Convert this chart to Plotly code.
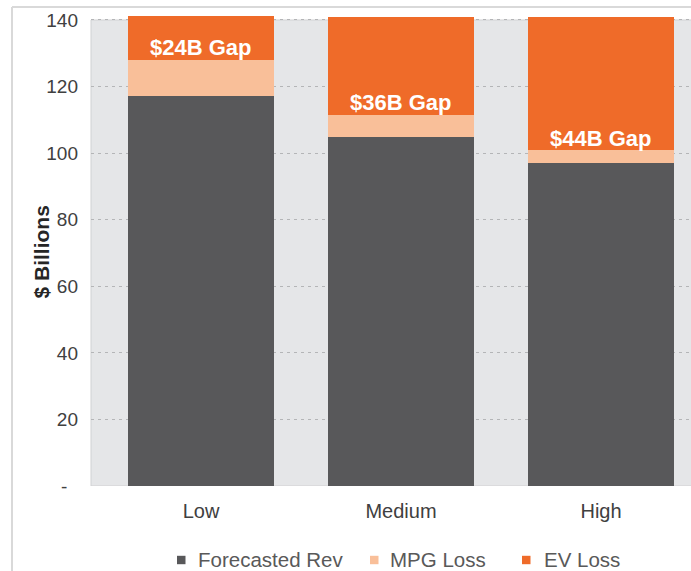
import plotly.graph_objects as go

# Scenario revenue data ($ billions)
scenarios = ["Low", "Medium", "High"]
forecasted_rev = [117.2, 105.0, 97.0]
mpg_loss = [10.8, 6.6, 3.8]
ev_loss = [13.2, 29.4, 40.2]
gap_labels = ["$24B Gap", "$36B Gap", "$44B Gap"]

series_names = ["Forecasted Rev", "MPG Loss", "EV Loss"]

y_ticks = [0, 20, 40, 60, 80, 100, 120, 140]
y_tick_text = ["-\u00a0\u00a0", "20", "40", "60", "80", "100", "120", "140"]

DARK = "#58585a"
PEACH = "#f9bf99"
ORANGE = "#ef6b29"
FONT = "Liberation Sans, Arial, sans-serif"

W, H = 691, 571
M_L, M_R, M_T, M_B = 91, 0, 16, 85
PLOT_W = W - M_L - M_R
PLOT_H = H - M_T - M_B


def px_x(px):
    return (px - M_L) / PLOT_W


def px_y(py):
    return (H - M_B - py) / PLOT_H


colors = [DARK, PEACH, ORANGE]
fig = go.Figure()
for name, vals, color in zip(series_names, [forecasted_rev, mpg_loss, ev_loss], colors):
    fig.add_trace(go.Bar(x=scenarios, y=vals, name=name, marker_color=color,
                         marker_line_width=0, width=0.73, showlegend=False))

# Gap labels sit just above the MPG loss segment
for s, f, m, txt in zip(scenarios, forecasted_rev, mpg_loss, gap_labels):
    fig.add_annotation(x=s, y=f + m, text=f"<b>{txt}</b>", showarrow=False,
                       yanchor="middle", yshift=12,
                       font=dict(family=FONT, size=22, color="white"))

# Y axis title
fig.add_annotation(xref="paper", yref="paper", x=px_x(27), y=px_y(252),
                   text="<b>$ Billions</b>", textangle=-90, showarrow=False,
                   font=dict(family=FONT, size=21, color="#262626"))

shapes = [
    # grey plot background
    dict(type="rect", xref="paper", yref="y", x0=0, x1=1.01, y0=0, y1=140,
         fillcolor="#e5e6e8", line=dict(color="#d0d1d3", width=1), layer="below"),
    # outer frame
    dict(type="line", xref="paper", yref="paper", x0=px_x(12), x1=px_x(12),
         y0=px_y(7), y1=px_y(580), line=dict(color="#d9d9d9", width=2)),
    dict(type="line", xref="paper", yref="paper", x0=px_x(12), x1=px_x(700),
         y0=px_y(7), y1=px_y(7), line=dict(color="#d9d9d9", width=2)),
]

# Legend row: small square swatch followed by the series name
legend_sq_x = [177, 370, 522]
legend_txt_x = [197, 389, 543]
legend_y = 559
for name, color, sx, tx in zip(series_names, colors, legend_sq_x, legend_txt_x):
    shapes.append(dict(type="rect", xref="paper", yref="paper",
                       x0=px_x(sx), x1=px_x(sx + 8.5),
                       y0=px_y(legend_y - 3.2), y1=px_y(legend_y + 5.2),
                       fillcolor=color, line=dict(width=0)))
    fig.add_annotation(xref="paper", yref="paper", x=px_x(tx), y=px_y(legend_y),
                       xanchor="left", yanchor="middle", text=name, showarrow=False,
                       borderpad=0,
                       font=dict(family=FONT, size=20.5, color="#595959"))

fig.update_layout(
    barmode="stack",
    width=W, height=H,
    margin=dict(l=M_L, r=M_R, t=M_T, b=M_B),
    paper_bgcolor="white",
    plot_bgcolor="white",
    shapes=shapes,
    showlegend=False,
    xaxis=dict(range=[-0.55, 2.45], showgrid=False, zeroline=False,
               showline=False, ticks="", ticklabelstandoff=11,
               tickfont=dict(family=FONT, size=20, color="#404040")),
    yaxis=dict(range=[0, 141.2], tickvals=y_ticks, ticktext=y_tick_text,
               showgrid=True, gridcolor="#b4b5b7", griddash="3px,4px",
               gridwidth=1, zeroline=False, showline=False, ticks="",
               ticklabelstandoff=12,
               tickfont=dict(family=FONT, size=19, color="#404040")),
)

fig.write_html("out.html")
